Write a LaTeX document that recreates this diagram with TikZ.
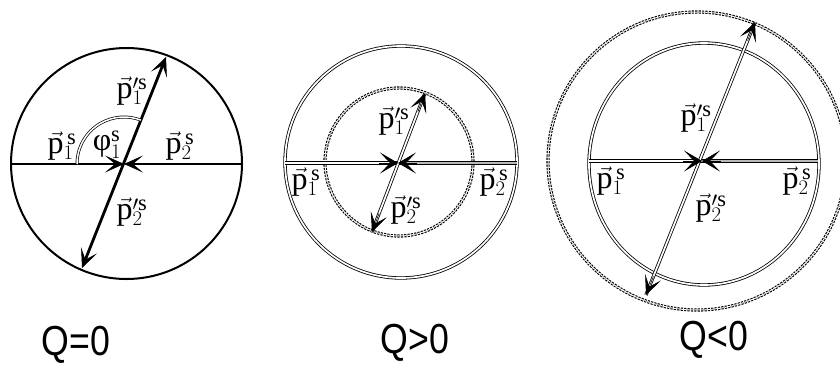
\documentclass[tikz,border=0pt]{standalone}
\usepackage{fontspec}
\setmainfont{Liberation Serif}
\newfontfamily\qfont{Liberation Sans}
\usetikzlibrary{arrows.meta,calc}
\begin{document}
\begin{tikzpicture}[x=1pt,y=-1pt,
  onearrow/.style={-{Stealth[length=19pt 0,width=17pt 0,inset=10pt 0,line width=0.6pt]}},
  widearrow/.style={-{Stealth[length=18pt 0,width=21pt 0,inset=10pt 0,line width=0.6pt]}},
  twoarrow/.style={{Stealth[length=19pt 0,width=17pt 0,inset=10pt 0,line width=0.6pt]}-{Stealth[length=19pt 0,width=17pt 0,inset=10pt 0,line width=0.6pt]}},
  heavy/.style={line width=2.8pt},
  rim/.style={line width=2pt},
  dbl/.style={double=white,double distance=1.7pt,line width=0.8pt},
  dblgray/.style={double=gray!55,double distance=1.8pt,line width=0.7pt},
  dots/.style={double=white,double distance=1pt,line width=1.1pt,dash pattern=on 2.2pt off 1.2pt},
  tipline/.style={line width=0.6pt},
  lab/.style={font=\fontsize{32}{34}\selectfont, inner sep=0pt},
  qlab/.style={font=\qfont\fontsize{42}{46}\selectfont, xscale=0.85, inner sep=0pt}]
\useasboundingbox (0,0) rectangle (840,370);
\clip (0,0) rectangle (840,370);

% ---------- panel 1 : Q=0 ----------
\coordinate (O1) at (126.5,163.5);
\coordinate (C1) at (124,164);
\coordinate (L1) at (11,164);
\coordinate (R1) at (242,164);
\coordinate (T1) at (166,57);
\coordinate (B1) at (82,268);
\draw[rim] (O1) circle[radius=115.5];
\draw[heavy,onearrow] (L1) -- (C1);
\draw[heavy,onearrow] (R1) -- (C1);
\draw[heavy,twoarrow] (B1) -- (T1);
\draw[dbl,line width=0.7pt,double distance=1.5pt] (77,164) arc[start angle=180,end angle=291,radius=47];
\node[lab] (a1) at (62,146) {$\vec{\mathrm{p}}^{\,\mathrm{s}}_{1}$};
\node[lab] (phi) at (107,145) {$\mbox{φ}^{\mathrm{s}}_{1}$};
\node[lab] (a2) at (180,146) {$\vec{\mathrm{p}}^{\,\mathrm{s}}_{2}$};
\node[lab] (a3) at (132,91) {$\vec{\mathrm{p}}^{\prime\mathrm{s}}_{1}$};
\node[lab] (a4) at (132,212) {$\vec{\mathrm{p}}^{\prime\mathrm{s}}_{2}$};
\node[qlab] (q1) at (76,345) {Q=0};

% ---------- panel 2 : Q>0 ----------
\coordinate (O2) at (401,162);
\coordinate (D2) at (399,162);
\coordinate (C2) at (398,163);
\coordinate (L2) at (285,163);
\coordinate (R2) at (517,163);
\coordinate (T2) at (425,93);
\coordinate (B2) at (372,232);
\draw[dbl] (O2) circle[radius=116];
\draw[dots] (D2) circle[radius=74];
\draw[dbl] (L2) -- (C2);
\draw[dblgray] (R2) -- (C2);
\draw[dbl] (B2) -- (T2);
\draw[tipline,widearrow] ($(C2)!19pt!(L2)$) -- (C2);
\draw[tipline,widearrow] ($(C2)!19pt!(R2)$) -- (C2);
\draw[tipline,onearrow] ($(T2)!20pt!(B2)$) -- (T2);
\draw[tipline,onearrow] ($(B2)!20pt!(T2)$) -- (B2);
\node[lab] (b1) at (306,182) {$\vec{\mathrm{p}}^{\,\mathrm{s}}_{1}$};
\node[lab] (b2) at (494,182) {$\vec{\mathrm{p}}^{\,\mathrm{s}}_{2}$};
\node[lab] (b3) at (394,121) {$\vec{\mathrm{p}}^{\prime\mathrm{s}}_{1}$};
\node[lab] (b4) at (406,210) {$\vec{\mathrm{p}}^{\prime\mathrm{s}}_{2}$};
\node[qlab] (q2) at (415,343) {Q>0};

% ---------- panel 3 : Q<0 ----------
\coordinate (O3) at (704,164);
\coordinate (D3) at (697,161);
\coordinate (C3) at (702,161);
\coordinate (L3) at (589,161);
\coordinate (R3) at (818,161);
\coordinate (T3) at (755,22);
\coordinate (B3) at (646,295);
\draw[dbl] (O3) ellipse[x radius=115,y radius=121];
\draw[dots] (D3) circle[radius=149];
\draw[dbl] (L3) -- (C3);
\draw[dblgray] (R3) -- (C3);
\draw[dbl] (B3) -- (T3);
\draw[tipline,widearrow] ($(C3)!19pt!(L3)$) -- (C3);
\draw[tipline,widearrow] ($(C3)!19pt!(R3)$) -- (C3);
\draw[tipline,onearrow] ($(T3)!20pt!(B3)$) -- (T3);
\draw[tipline,onearrow] ($(B3)!20pt!(T3)$) -- (B3);
\node[lab] (c1) at (611,181) {$\vec{\mathrm{p}}^{\,\mathrm{s}}_{1}$};
\node[lab] (c2) at (797,181) {$\vec{\mathrm{p}}^{\,\mathrm{s}}_{2}$};
\node[lab] (c3) at (696,118) {$\vec{\mathrm{p}}^{\prime\mathrm{s}}_{1}$};
\node[lab] (c4) at (711,208) {$\vec{\mathrm{p}}^{\prime\mathrm{s}}_{2}$};
\node[qlab] (q3) at (714,340) {Q<0};
\end{tikzpicture}
\end{document}
